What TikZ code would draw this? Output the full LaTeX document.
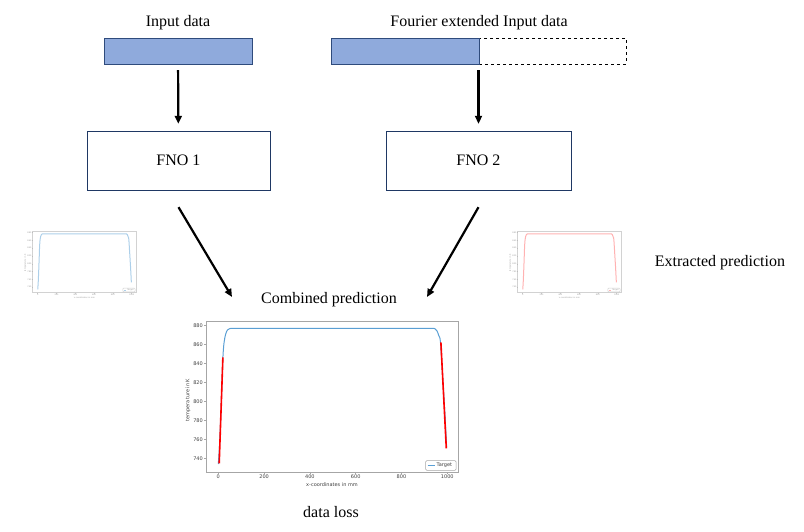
\documentclass[tikz,border=0pt]{standalone}
\usepackage{fontspec}
\setmainfont{Liberation Serif}
\newfontfamily\plotfont{DejaVu Sans}
\usetikzlibrary{arrows.meta}

\definecolor{inputfill}{HTML}{8FAADC}
\definecolor{inputedge}{HTML}{2F4B7C}
\definecolor{fnoedge}{HTML}{1F3864}
\definecolor{curveblue}{HTML}{5A9FD4}
\definecolor{curvered}{HTML}{FF6666}

\tikzset{
  lbl/.style={font=\fontsize{16}{19}\selectfont, inner sep=1pt},
  inbox/.style={draw=inputedge, fill=inputfill, minimum height=26pt, inner sep=0pt},
  padbox/.style={draw, dashed, minimum height=26pt, inner sep=0pt},
  fnobox/.style={draw=fnoedge, minimum height=59pt, font=\fontsize{16}{19}\selectfont},
  flow/.style={-{Triangle[length=8pt,width=7pt]}, line width=2.2pt},
  plotframe/.style={draw=gray!70, line width=0.5pt},
  ticklabel/.style={font=\plotfont\fontsize{5}{6}\selectfont, text=black!75, inner sep=0.5pt},
  lossline/.style={red, line width=1.6pt},
  plotscale/.style={shift={(12.3,-687.1)}, x=0.229pt, y=0.947pt},
  pics/tempplot/.style={code={
    \draw[plotframe] (0,0) rectangle (252,151);
    \foreach \t in {0,200,...,1000} {
      \draw[plotframe] ({12.3+0.229*\t},0) -- ++(0,-2.5);
      \node[ticklabel, below] (-x\t) at ({12.3+0.229*\t},-2.5) {\t};
    }
    \foreach \T in {740,760,...,880} {
      \draw[plotframe] (0,{13.7+0.947*(\T-740)}) -- ++(-2.5,0);
      \node[ticklabel, left] (-y\T) at (-2.5,{13.7+0.947*(\T-740)}) {\T};
    }
    \node[ticklabel] (-xlab) at (126,-12.5) {x-coordinates in mm};
    \node[ticklabel, rotate=90] (-ylab) at (-18,72) {temperature in K};
    \begin{scope}[plotscale]
      \draw[#1, line width=1pt]
        plot[smooth] coordinates {(0,734) (5,752) (10,780) (15,812) (20,846)
          (25,862) (32,871) (40,875.5) (50,877) (60,877.2)}
        -- plot[smooth] coordinates {(935,877.2) (945,877) (955,874.5) (963,869.5)
          (970,863) (980,825) (990,785) (997,752)};
    \end{scope}
    \draw[plotframe, fill=white, rounded corners=1pt] (219.7,1.7) rectangle (250,11.3);
    \draw[#1, line width=1pt] (221.5,6.5) -- (228.5,6.5);
    \node[ticklabel, anchor=west] (-leg) at (230,6.5) {Target};
  }}
}

\begin{document}
\begin{tikzpicture}[x=1pt, y=1pt]
  \useasboundingbox (0,0) rectangle (804,532);

  % inputs
  \node[lbl] (inlabel) at (178,509) {Input data};
  \node[inbox, minimum width=148pt] (in1) at (178,481) {};
  \node[lbl] (extlabel) at (479,509) {Fourier extended Input data};
  \node[padbox, minimum width=147pt] (pad) at (552.5,481) {};
  \node[inbox, minimum width=148pt] (in2) at (405,481) {};

  % operators
  \node[fnobox, minimum width=183pt] (fno1) at (178.5,371.5) {FNO 1};
  \node[fnobox, minimum width=185pt] (fno2) at (478.5,371.5) {FNO 2};

  \draw[flow, shorten <=6pt, shorten >=7pt] (in1) -- (fno1);
  \draw[flow, shorten <=6pt, shorten >=7pt] (in2.south -| fno2) -- (fno2);

  \coordinate (outL) at ([yshift=-17pt]fno1.south);
  \coordinate (outR) at ([yshift=-17pt]fno2.south);
  \coordinate (joinL) at (232,235);
  \coordinate (joinR) at (427,235);
  \draw[flow] (outL) -- (joinL);
  \draw[flow] (outR) -- (joinR);

  % predictions
  \pic[scale=0.41, transform shape, opacity=0.5] (leftplot) at (32.7,239.3) {tempplot=curveblue};
  \pic[scale=0.41, transform shape, opacity=0.5] (rightplot) at (517.7,239.3) {tempplot=curvered};
  \node[lbl] (extracted) at (720,269) {Extracted prediction};
  \node[lbl] (combined) at (329,232) {Combined prediction};

  \pic (bigplot) at (206,60) {tempplot=curveblue};
  \begin{scope}[shift={(206,60)}, plotscale]
    \draw[lossline] (4,734.7) -- (20,846.6);
    \draw[lossline] (972,862.4) -- (995.6,750.5);
  \end{scope}

  \node[lbl] (loss) at (331,20) {data loss};
\end{tikzpicture}
\end{document}
